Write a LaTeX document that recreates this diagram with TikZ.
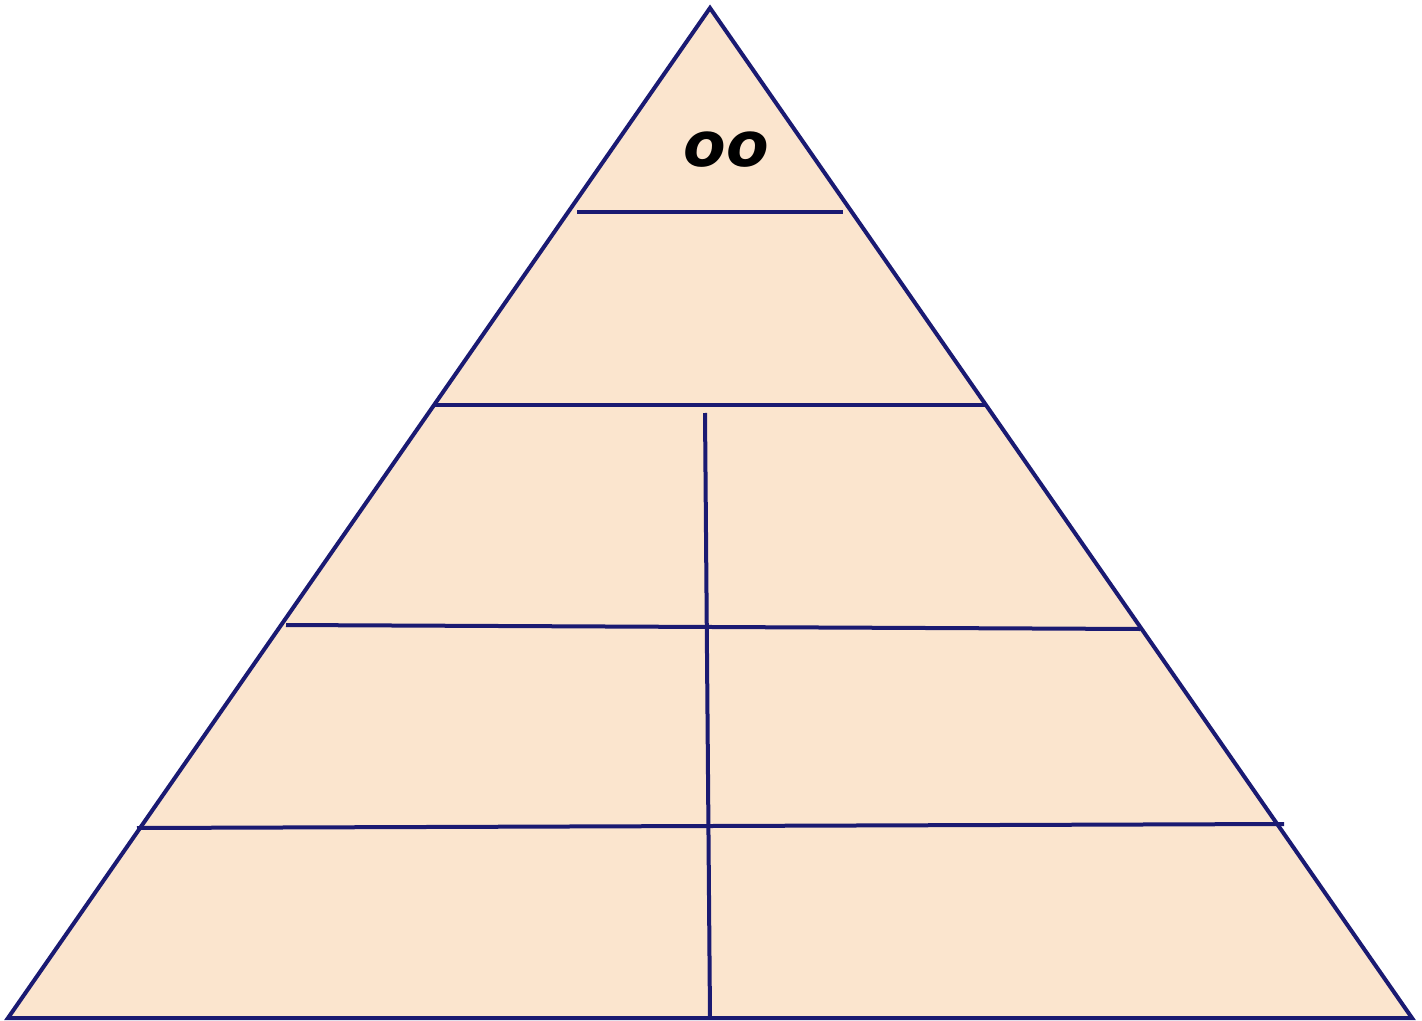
\documentclass[tikz,border=0pt]{standalone}
\usepackage{fontspec}
\newfontfamily\labelfont{DejaVu Sans}
\definecolor{pyrfill}{HTML}{FBE5CE}
\definecolor{pyrline}{HTML}{1A1A72}
\tikzset{
  tierline/.style={draw=pyrline, line width=2pt},
  toplabel/.style={font=\labelfont\bfseries\itshape\fontsize{31}{31}\selectfont, inner sep=0pt},
}
\begin{document}
\begin{tikzpicture}[x=0.5pt, y=-0.5pt]
  \useasboundingbox (0,0) rectangle (1422,1021);
  % Pyramid outline
  \coordinate (apex) at (710,8);
  \coordinate (bl) at (8,1018);
  \coordinate (br) at (1412,1018);
  \filldraw[tierline, fill=pyrfill, line join=miter] (apex) -- (br) -- (bl) -- cycle;

  % Tier lines
  \draw[tierline] (577,212) -- (843,212);
  \draw[tierline] (433,405) -- (986,405);
  \draw[tierline] (286,625) -- (1140,629);
  \draw[tierline] (137,828) -- (1284,824);

  % Middle divider
  \coordinate (mtop) at (705,413);
  \coordinate (mbot) at (710,1018);
  \draw[tierline] (mtop) -- (mbot);

  % Label
  \node[toplabel] (oo) at (726,150) {oo};
\end{tikzpicture}
\end{document}
